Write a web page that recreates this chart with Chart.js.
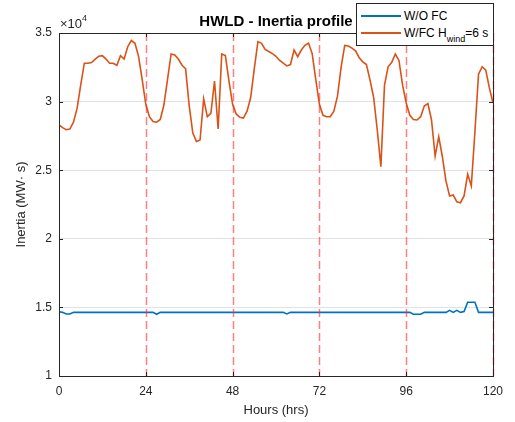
<!DOCTYPE html>
<html>
<head>
<meta charset="utf-8">
<script src="https://cdn.jsdelivr.net/npm/chart.js@4/dist/chart.umd.min.js"></script>
<style>
  html, body { margin: 0; padding: 0; background: #fff; }
  #wrap { position: relative; width: 515px; height: 422px; }
  #legend {
    position: absolute; left: 356px; top: 3px; width: 138px; height: 43px;
    border: 1px solid #262626; background: #fff; box-sizing: border-box;
    font-family: "Liberation Sans", Arial, sans-serif; font-size: 12px; color: #000;
  }
  .row { position: absolute; left: 4px; height: 16px; line-height: 16px; white-space: nowrap; }
  .sw { display: inline-block; width: 40px; height: 0; border-top: 2px solid; margin-right: 3px; vertical-align: middle; position: relative; top: -1px; }
  .sub { font-size: 9px; position: relative; top: 5px; }
</style>
</head>
<body>
<div id="wrap">
  <canvas id="c" width="515" height="422"></canvas>
  <div id="legend">
    <div class="row" style="top:4px"><span class="sw" style="border-color:#0072BD"></span>W/O FC</div>
    <div class="row" style="top:21px"><span class="sw" style="border-color:#D95319"></span>W/FC H<span class="sub">wind</span>=6 s</div>
  </div>
</div>
<script>
// Hours 0..120
const hours = Array.from({length: 121}, (_, i) => i);

// Inertia without fast control (MW·s)
const inertiaWoFC = [
  14680,14640,14520,14520,14640,14640,14640,14640,14640,14640,
  14640,14640,14640,14640,14640,14640,14640,14640,14640,14640,
  14640,14640,14640,14640,14640,14640,14640,14500,14640,14640,
  14640,14640,14640,14640,14640,14640,14640,14640,14640,14640,
  14640,14640,14640,14640,14640,14640,14640,14640,14640,14640,
  14640,14640,14640,14640,14640,14640,14640,14640,14640,14640,
  14640,14640,14640,14520,14640,14640,14640,14640,14640,14640,
  14640,14640,14640,14640,14640,14640,14640,14640,14640,14640,
  14640,14640,14640,14640,14640,14640,14640,14640,14640,14640,
  14640,14640,14640,14640,14640,14640,14640,14640,14500,14500,
  14500,14640,14640,14640,14640,14640,14640,14640,14780,14640,
  14780,14640,14700,15370,15370,15370,14640,14640,14640,14640,
  14640
];

// Inertia with fast control, H_wind = 6 s (MW·s)
const inertiaWFC = [
  28300,28100,27950,28000,28500,29500,31200,32800,32800,32850,
  33100,33300,33350,33100,32800,32800,32650,33350,33100,34000,
  34450,34250,33300,31600,29800,28900,28550,28500,28700,29750,
  31600,33470,33400,33100,32650,32400,29700,27700,27100,27200,
  30200,28900,29150,31500,28000,33470,33350,31500,29800,29100,
  28860,28800,29300,30300,32400,34370,34250,33800,33650,33500,
  33300,33000,32800,32600,32700,33760,33270,33760,34100,34250,
  33500,31600,29800,29000,28900,28900,29300,30400,32500,34100,
  34050,33900,33700,33200,32900,32700,31570,30300,27930,25250,
  31200,32540,32860,33470,33000,31200,29900,29000,28700,28660,
  28900,29680,29850,28660,26030,27440,25980,24200,23120,23190,
  22700,22630,23120,24700,23850,27800,32000,32540,32300,31000,
  29900
];

// Day boundaries (dashed red markers)
const dayMarks = [24, 48, 72, 96, 120];

// Axis ticks
const yTicks = [10000, 15000, 20000, 25000, 30000, 35000];
const xTicks = [0, 24, 48, 72, 96, 120];

const FONT = '"Liberation Sans", Arial, Helvetica, sans-serif';
const AXC = '#262626';

const framePlugin = {
  id: 'frame',
  afterDatasetsDraw(chart) {
    const {ctx, chartArea: a, scales: {x, y}} = chart;
    ctx.save();
    // dashed day markers
    ctx.strokeStyle = 'rgba(255,40,40,0.6)';
    ctx.lineWidth = 1.5;
    ctx.setLineDash([8, 4]);
    dayMarks.forEach(d => {
      const px = Math.round(x.getPixelForValue(d)) + 0.5;
      ctx.beginPath(); ctx.moveTo(px, a.top); ctx.lineTo(px, a.bottom); ctx.stroke();
    });
    ctx.setLineDash([]);
    // box
    ctx.strokeStyle = AXC;
    ctx.lineWidth = 1;
    ctx.strokeRect(Math.round(a.left) + 0.5, Math.round(a.top) + 0.5,
                   Math.round(a.right - a.left), Math.round(a.bottom - a.top));
    // inward ticks
    const tl = 4;
    yTicks.forEach(v => {
      const py = Math.round(y.getPixelForValue(v)) + 0.5;
      ctx.beginPath();
      ctx.moveTo(a.left, py); ctx.lineTo(a.left + tl, py);
      ctx.moveTo(a.right, py); ctx.lineTo(a.right - tl, py);
      ctx.stroke();
    });
    xTicks.forEach(v => {
      const px = Math.round(x.getPixelForValue(v)) + 0.5;
      ctx.beginPath();
      ctx.moveTo(px, a.bottom); ctx.lineTo(px, a.bottom - tl);
      ctx.moveTo(px, a.top); ctx.lineTo(px, a.top + tl);
      ctx.stroke();
    });
    // exponent label
    ctx.fillStyle = AXC;
    ctx.textBaseline = 'alphabetic';
    ctx.textAlign = 'left';
    ctx.font = '13px ' + FONT;
    const base = '\u00d710';
    ctx.fillText(base, a.left + 1, a.top - 5);
    const w = ctx.measureText(base).width;
    ctx.font = '9px ' + FONT;
    ctx.fillText('4', a.left + 1 + w, a.top - 12);
    ctx.restore();
  }
};

new Chart(document.getElementById('c'), {
  type: 'line',
  data: {
    labels: hours,
    datasets: [
      {
        label: 'W/O FC',
        data: hours.map((h, i) => ({x: h, y: inertiaWoFC[i]})),
        borderColor: '#0072BD', borderWidth: 1.6, pointRadius: 0, tension: 0
      },
      {
        label: 'W/FC Hwind=6 s',
        data: hours.map((h, i) => ({x: h, y: inertiaWFC[i]})),
        borderColor: '#D95319', borderWidth: 1.6, pointRadius: 0, tension: 0
      }
    ]
  },
  options: {
    responsive: false,
    animation: false,
    devicePixelRatio: 1,
    layout: { padding: { left: 0, right: 22, top: 0, bottom: 0 } },
    plugins: {
      legend: { display: false },
      tooltip: { enabled: false },
      title: {
        display: true,
        fullSize: false,
        text: 'HWLD - Inertia profile',
        color: '#000',
        font: { family: FONT, size: 15, weight: 'bold' },
        padding: { top: 13, bottom: 2 }
      }
    },
    scales: {
      x: {
        type: 'linear', min: 0, max: 120,
        afterFit: s => { s.height = 46; },
        afterBuildTicks: s => { s.ticks = xTicks.map(v => ({value: v})); },
        grid: { display: false, drawTicks: false },
        border: { display: false },
        ticks: { color: AXC, font: { family: FONT, size: 12 }, padding: 8, maxRotation: 0 },
        title: { display: true, text: 'Hours (hrs)', color: AXC, font: { family: FONT, size: 13 }, padding: { top: 0, bottom: 4 } }
      },
      y: {
        type: 'linear', min: 10000, max: 35000,
        afterFit: s => { s.width = 59; },
        afterBuildTicks: s => { s.ticks = yTicks.map(v => ({value: v})); },
        grid: { color: '#e2e2e2', drawTicks: false, lineWidth: 1 },
        border: { display: false },
        ticks: { color: AXC, font: { family: FONT, size: 12 }, padding: 7, callback: v => String(v / 10000) },
        title: { display: true, text: 'Inertia (MW\u00b7 s)', color: AXC, font: { family: FONT, size: 13 }, padding: { top: 14, bottom: 0 } }
      }
    }
  },
  plugins: [framePlugin]
});
</script>
</body>
</html>
